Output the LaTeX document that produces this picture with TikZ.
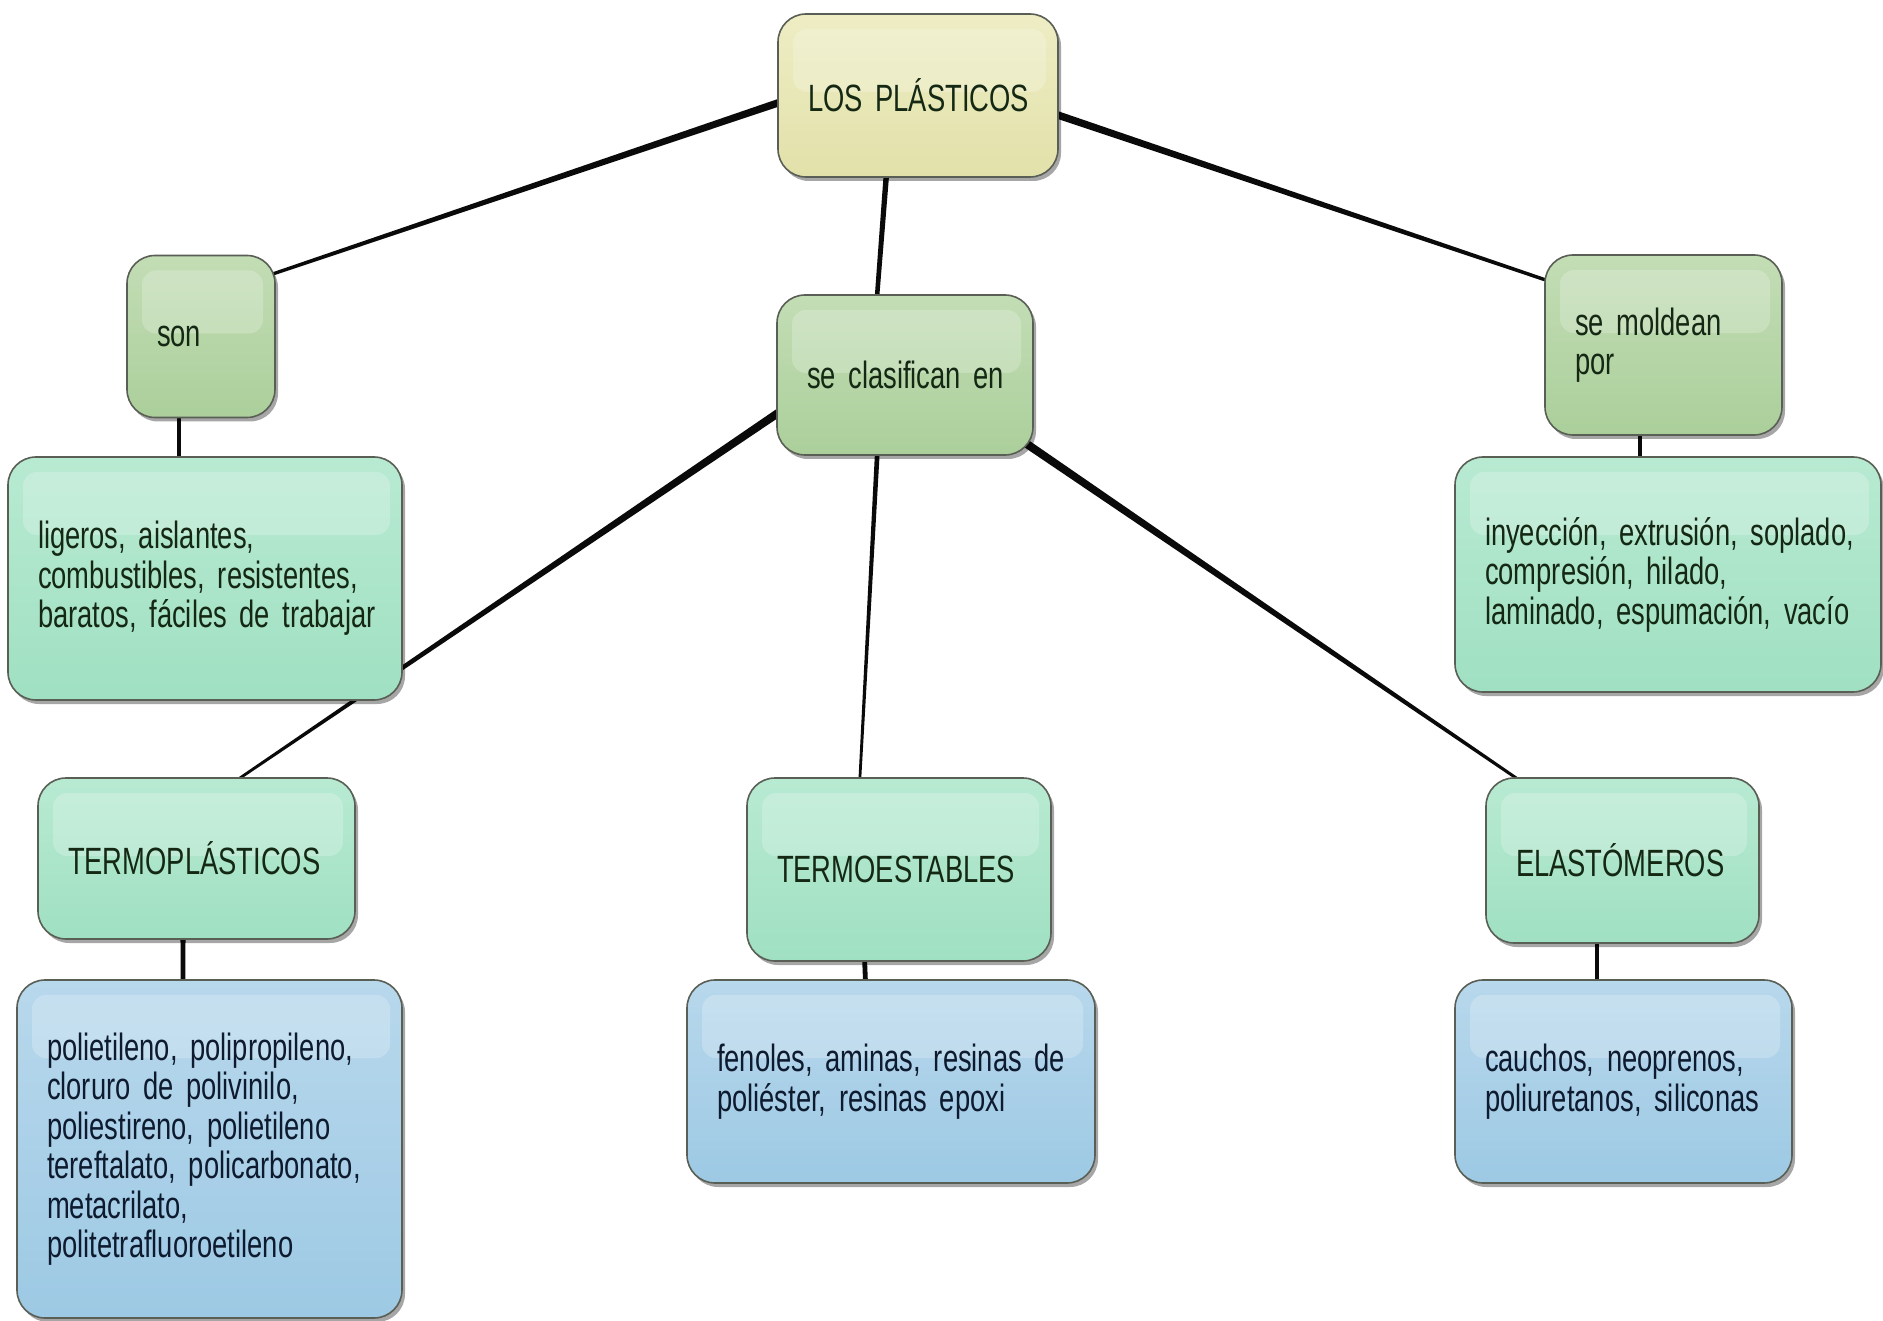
\documentclass[tikz,border=0pt]{standalone}
\usepackage{fontspec}
\setmainfont{Liberation Sans}[FakeStretch=0.72]
\usetikzlibrary{calc,shadows}
\definecolor{ylwT}{HTML}{EEEDC4}
\definecolor{ylwB}{HTML}{E2E1AA}
\definecolor{sageT}{HTML}{C3DDB5}
\definecolor{sageB}{HTML}{ABCF9B}
\definecolor{mintT}{HTML}{B8EAD2}
\definecolor{mintB}{HTML}{A0E0C2}
\definecolor{bluT}{HTML}{B8D8EC}
\definecolor{bluB}{HTML}{9DC9E4}
\definecolor{bordc}{HTML}{5A5F55}
\definecolor{txtg}{HTML}{142814}
\definecolor{txtb}{HTML}{0E1A2E}
\definecolor{linkc}{HTML}{0A0A0A}
\newcommand\taper[4]{\fill[linkc] ($#1!#3!90:#2$) -- ($#2!#4!-90:#1$) -- ($#2!#4!90:#1$) -- ($#1!#3!-90:#2$) -- cycle;}
\newcommand\tline[1]{\mbox{#1}}
\newcommand\boxfont{\fontsize{38}{39.5}\selectfont\spaceskip=6.2pt\relax}
\tikzset{
  box/.style={rounded corners=28pt, draw=bordc, line width=1.6pt, align=left,
    inner xsep=30pt, inner ysep=0pt, outer sep=0pt, anchor=center,
    font=\boxfont, text=txtg,
    drop shadow={shadow xshift=3pt, shadow yshift=-4pt, opacity=0.35, fill=black},
    path picture={\fill[white,opacity=0.22,rounded corners=14pt]
      ([xshift=15pt,yshift=-15pt]path picture bounding box.north west) rectangle
      ([xshift=-12pt,yshift=-78pt]path picture bounding box.north east);}},
  ybox/.style={box, top color=ylwT, bottom color=ylwB},
  sbox/.style={box, top color=sageT, bottom color=sageB},
  mbox/.style={box, top color=mintT, bottom color=mintB},
  bbox/.style={box, top color=bluT, bottom color=bluB, text=txtb}
}
\begin{document}
\begin{tikzpicture}[x=1pt,y=-1pt]
\fill[white] (0,0) rectangle (1883,1321);
\useasboundingbox (0,0) rectangle (1883,1321);
% node centres
\coordinate (cLOS) at (918,95.5);
\coordinate (cson) at (201,336.5);
\coordinate (cclas) at (905,375);
\coordinate (cmold) at (1663.5,345);
\coordinate (clig) at (205,578.5);
\coordinate (ciny) at (1668,574.5);
\coordinate (ctpl) at (196.5,858.5);
\coordinate (ctes) at (899,869.5);
\coordinate (cela) at (1622.5,860.5);
\coordinate (cpoli) at (209.5,1149);
\coordinate (cfen) at (891,1081.5);
\coordinate (ccau) at (1623.5,1081.5);
% connector end points, relative to node centres
\coordinate (a1) at ($(cLOS)+(-124,2)$);    \coordinate (b1) at ($(cson)+(54,-56.5)$);
\coordinate (a2) at ($(cLOS)+(-30.5,64.5)$); \coordinate (b2) at ($(cclas)+(-29,-65)$);
\coordinate (a3) at ($(cLOS)+(122,13.5)$);   \coordinate (b3) at ($(cmold)+(-98.5,-58.5)$);
\coordinate (a4) at ($(cson)+(-22,63.5)$);   \coordinate (b4) at ($(clig)+(-26,-103.5)$);
\coordinate (a5) at ($(cmold)+(-23.5,75)$);  \coordinate (b5) at ($(ciny)+(-28,-99.5)$);
\coordinate (a6) at ($(cclas)+(-110,26.5)$); \coordinate (b6) at ($(ctpl)+(26.5,-69)$);
\coordinate (a7) at ($(cclas)+(-27,65)$);    \coordinate (b7) at ($(ctes)+(-40,-74.5)$);
\coordinate (a8) at ($(cclas)+(105,57.5)$);  \coordinate (b8) at ($(cela)+(-89.5,-71)$);
\coordinate (a9) at ($(ctpl)+(-13.5,66.5)$); \coordinate (b9) at ($(cpoli)+(-26.5,-154)$);
\coordinate (a10) at ($(ctes)+(-35,75.5)$);  \coordinate (b10) at ($(cfen)+(-25,-86.5)$);
\coordinate (a11) at ($(cela)+(-25.5,64.5)$); \coordinate (b11) at ($(ccau)+(-26.5,-86.5)$);
% connectors (behind the boxes)
\taper{(a1)}{(b1)}{3.8pt}{1.6pt}
\taper{(a2)}{(b2)}{2.8pt}{2.2pt}
\taper{(a3)}{(b3)}{3.8pt}{1.6pt}
\taper{(a4)}{(b4)}{2.2pt}{2.2pt}
\taper{(a5)}{(b5)}{2.4pt}{2.4pt}
\taper{(a6)}{(b6)}{4.2pt}{1.3pt}
\taper{(a7)}{(b7)}{2.4pt}{1.3pt}
\taper{(a8)}{(b8)}{4.2pt}{1.4pt}
\taper{(a9)}{(b9)}{2.6pt}{2.2pt}
\taper{(a10)}{(b10)}{2.4pt}{2.4pt}
\taper{(a11)}{(b11)}{2.4pt}{2.4pt}
% boxes
\node[ybox, text width=220pt, minimum height=163pt] (LOS) at (cLOS) {\tline{LOS PLÁSTICOS}};
\node[sbox, text width=88pt, minimum height=162pt] (son) at (cson) {\tline{son}};
\node[sbox, text width=196pt, minimum height=160pt] (clas) at (cclas) {\tline{se clasifican en}};
\node[sbox, text width=177pt, minimum height=180pt] (mold) at (cmold) {\tline{se moldean}\\\tline{por}};
\node[mbox, text width=334pt, minimum height=243pt] (lig) at (clig) {\tline{ligeros, aislantes,}\\\tline{combustibles, resistentes,}\\\tline{baratos, fáciles de trabajar}};
\node[mbox, text width=366pt, minimum height=235pt] (iny) at (ciny) {\tline{inyección, extrusión, soplado,}\\\tline{compresión, hilado,}\\\tline{laminado, espumación, vacío}};
\node[mbox, text width=257pt, minimum height=161pt] (tpl) at (ctpl) {\tline{TERMOPLÁSTICOS}};
\node[mbox, text width=244pt, minimum height=183pt] (tes) at (ctes) {\tline{TERMOESTABLES}};
\node[mbox, text width=213pt, minimum height=165pt] (ela) at (cela) {\tline{ELASTÓMEROS}};
\node[bbox, text width=325pt, minimum height=338pt] (poli) at (cpoli) {\tline{polietileno, polipropileno,}\\\tline{cloruro de polivinilo,}\\\tline{poliestireno, polietileno}\\\tline{tereftalato, policarbonato,}\\\tline{metacrilato,}\\\tline{politetrafluoroetileno}};
\node[bbox, text width=348pt, minimum height=203pt] (fen) at (cfen) {\tline{fenoles, aminas, resinas de}\\\tline{poliéster, resinas epoxi}};
\node[bbox, text width=277pt, minimum height=203pt] (cau) at (ccau) {\tline{cauchos, neoprenos,}\\\tline{poliuretanos, siliconas}};
\end{tikzpicture}
\end{document}
